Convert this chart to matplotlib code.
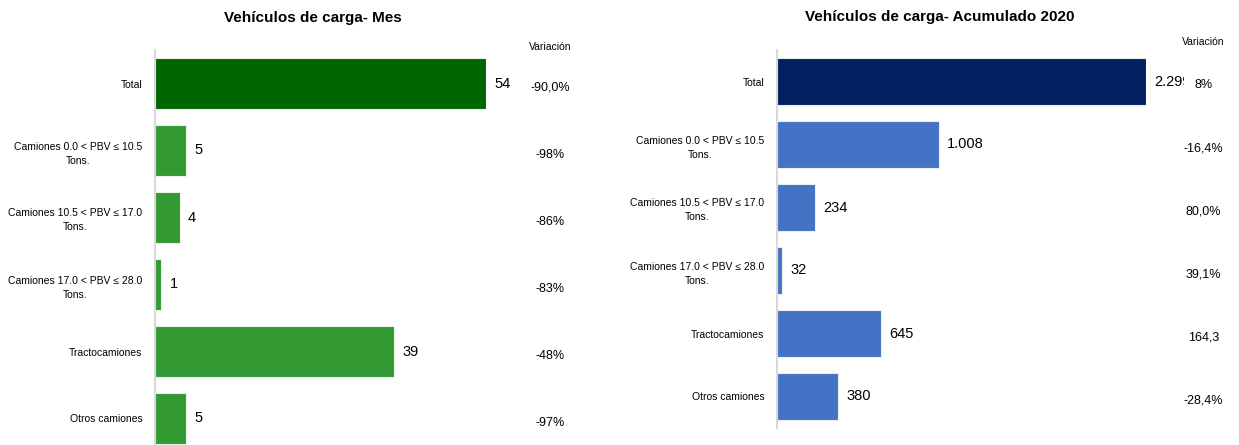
import matplotlib.pyplot as plt
from matplotlib.transforms import Bbox, blended_transform_factory

plt.rcParams['font.family'] = ['Liberation Sans', 'DejaVu Sans']

categorias = ["Total", "Camiones 0.0 < PBV ≤ 10.5\nTons.", "Camiones 10.5 < PBV ≤ 17.0\nTons.",
              "Camiones 17.0 < PBV ≤ 28.0\nTons.", "Tractocamiones", "Otros camiones"]

mes_valores = [54, 5, 4, 1, 39, 5]
mes_variacion = ["-90,0%", "-98%", "-86%", "-83%", "-48%", "-97%"]

acum_valores = [2299, 1008, 234, 32, 645, 380]
acum_variacion = ["8%", "-16,4%", "80,0%", "39,1%", "164,3", "-28,4%"]

W, H = 1239, 445
fig = plt.figure(figsize=(W / 100, H / 100), dpi=100)


def fmt(v):
    return f"{v:,}".replace(",", ".")


def panel(rect, valores, variacion, c_total, c_resto, var_x, head_y, clip_x=None):
    ax = fig.add_axes(rect)
    y = list(range(len(categorias)))
    colores = [c_total] + [c_resto] * (len(valores) - 1)
    ax.barh(y, valores, height=0.75, color=colores, edgecolor="#e8f0e8", linewidth=0.8)
    ax.set_ylim(len(categorias) - 0.5, -0.5)
    ax.set_xlim(0, max(valores))
    ax.set_yticks(y)
    ax.set_yticklabels(categorias, fontsize=7.5, ha="right", multialignment="center",
                       linespacing=1.5)
    ax.tick_params(axis="y", length=0, pad=9)
    ax.set_xticks([])
    for s in ["top", "right", "bottom"]:
        ax.spines[s].set_visible(False)
    ax.spines["left"].set_color("#d9d9d9")
    ax.spines["left"].set_linewidth(1.5)

    for i, v in enumerate(valores):
        t = ax.annotate(fmt(v), (v, i), xytext=(6, 0), textcoords="offset points",
                        va="center", ha="left", fontsize=10.5, annotation_clip=False)
        if clip_x is not None and i == 0:
            t.set_clip_box(Bbox([[0, 0], [clip_x, H]]))
            t.set_clip_on(True)

    tr = blended_transform_factory(ax.transAxes, ax.transData)
    for i, s in enumerate(variacion):
        ax.text(var_x, i + 0.06, s, transform=tr, ha="center", va="center", fontsize=9)
    ax.text(var_x, head_y, "Variación", transform=ax.transAxes, ha="center",
            va="center", fontsize=7.5)
    return ax


ax1 = panel([155 / W, -7 / H, 331 / W, 402 / H], mes_valores, mes_variacion,
            "#006600", "#339933", 1.193, 1.007)
ax2 = panel([777 / W, 17 / H, 369 / W, 378 / H], acum_valores, acum_variacion,
            "#002060", "#4472C4", 1.155, 1.021, clip_x=1184)

fig.text(313 / W, 1 - 18 / H, "Vehículos de carga- Mes", ha="center", va="center",
         fontsize=11, fontweight="bold")
fig.text(940 / W, 1 - 17 / H, "Vehículos de carga- Acumulado 2020", ha="center",
         va="center", fontsize=11, fontweight="bold")

fig.savefig("out.png", dpi=100)
